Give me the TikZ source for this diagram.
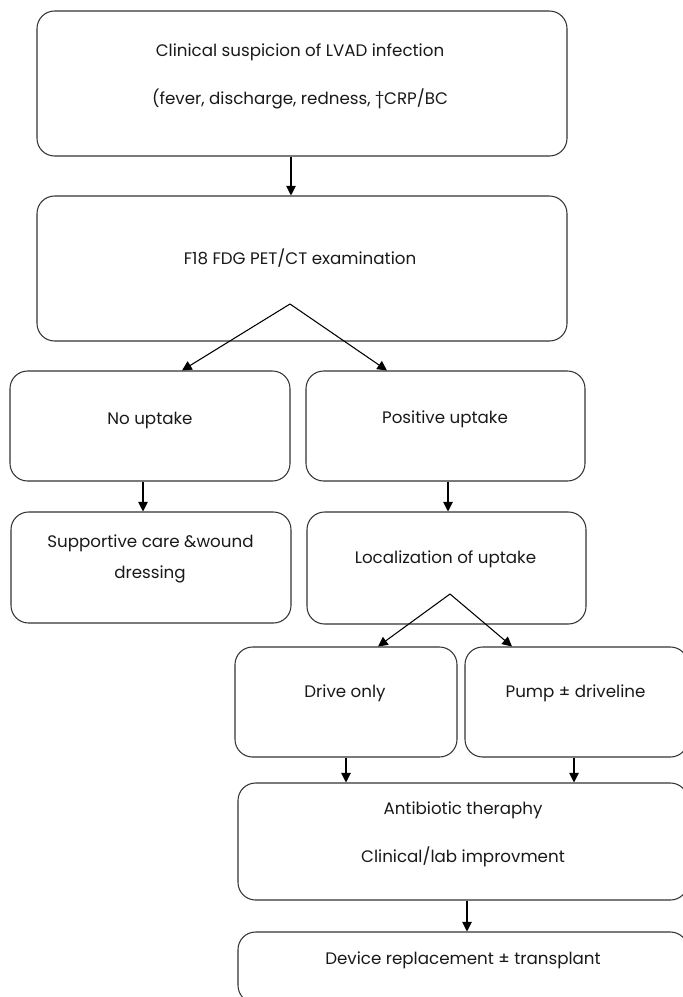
\documentclass[tikz,border=0pt]{standalone}
\usepackage{fontspec}
\setmainfont{Poppins}
\usepackage{tikz}
\usetikzlibrary{arrows.meta}

\begin{document}
\begin{tikzpicture}[line width=0.6pt, >={Triangle[length=5.5pt, width=5.5pt]},
    box/.style={draw=black!80, rounded corners=10pt, inner sep=0pt},
    txt/.style={font=\fontsize{9.5}{11}\selectfont, text=black!90}]
        \clip (0,0) rectangle (13.66,-19.94);
        % Boxes
        \node[box, minimum width=10.6cm, minimum height=2.9cm] (suspect) at (6.04,-1.67) {};
        \node[box, minimum width=10.6cm, minimum height=2.9cm] (pet) at (6.04,-5.37) {};
        \node[box, minimum width=5.6cm, minimum height=2.2cm] (noup) at (3.0,-8.52) {};
        \node[box, minimum width=5.58cm, minimum height=2.2cm] (posup) at (8.91,-8.52) {};
        \node[box, minimum width=5.6cm, minimum height=2.22cm] (support) at (3.02,-11.35) {};
        \node[box, minimum width=5.58cm, minimum height=2.24cm] (local) at (8.93,-11.36) {};
        \node[box, minimum width=4.44cm, minimum height=2.2cm] (drive) at (6.92,-14.04) {};
        \node[box, minimum width=4.46cm, minimum height=2.2cm] (pump) at (11.53,-14.04) {};
        \node[box, minimum width=9.0cm, minimum height=2.34cm] (abx) at (9.26,-16.83) {};
        \node[box, minimum width=9.0cm, minimum height=1.42cm] (device) at (9.26,-19.35) {};

        % Texts
        \node[txt] (suspectA) at (6.0,-1.04) {Clinical suspicion of LVAD infection};
        \node[txt] (suspectB) at (6.0,-1.98) {(fever, discharge, redness, †CRP/BC};
        \node[txt] (petT) at (6.0,-5.16) {F18 FDG PET/CT examination};
        \node[txt] (noupT) at (3.0,-8.4) {No uptake};
        \node[txt] (posupT) at (8.9,-8.38) {Positive uptake};
        \node[txt] (supportA) at (3.01,-10.86) {Supportive care \&wound};
        \node[txt] (supportB) at (3.0,-11.48) {dressing};
        \node[txt] (localT) at (8.91,-11.18) {Localization of uptake};
        \node[txt] (driveT) at (6.9,-13.86) {Drive only};
        \node[txt] (pumpT) at (11.51,-13.86) {Pump ± driveline};
        \node[txt] (abxA) at (9.26,-16.2) {Antibiotic theraphy};
        \node[txt] (abxB) at (9.26,-17.14) {Clinical/lab improvment};
        \node[txt] (deviceT) at (9.26,-19.2) {Device replacement ± transplant};

        % Directed edges
        \draw[->] ([xshift=-0.22cm]suspect.south) -- ([xshift=-0.22cm]pet.north);
        \coordinate (petfork) at (5.8,-6.08);
        \draw[->] (petfork) -- ([xshift=0.64cm]noup.north);
        \draw[->] (petfork) -- ([xshift=-1.17cm]posup.north);
        \draw[->] ([xshift=-0.14cm]noup.south) -- ([xshift=-0.14cm]noup.south |- support.north);
        \draw[->] ([xshift=0.05cm]posup.south) -- ([xshift=0.05cm]posup.south |- local.north);
        \coordinate (localfork) at (9.0,-11.88);
        \draw[->] (localfork) -- ([xshift=0.64cm]drive.north);
        \draw[->] (localfork) -- ([xshift=-1.29cm]pump.north);
        \draw[->] (drive.south) -- (drive.south |- abx.north);
        \draw[->] ([xshift=-0.05cm]pump.south) -- ([xshift=-0.05cm]pump.south |- abx.north);
        \draw[->] ([xshift=0.08cm]abx.south) -- ([xshift=0.08cm]abx.south |- device.north);
    \end{tikzpicture}
\end{document}
